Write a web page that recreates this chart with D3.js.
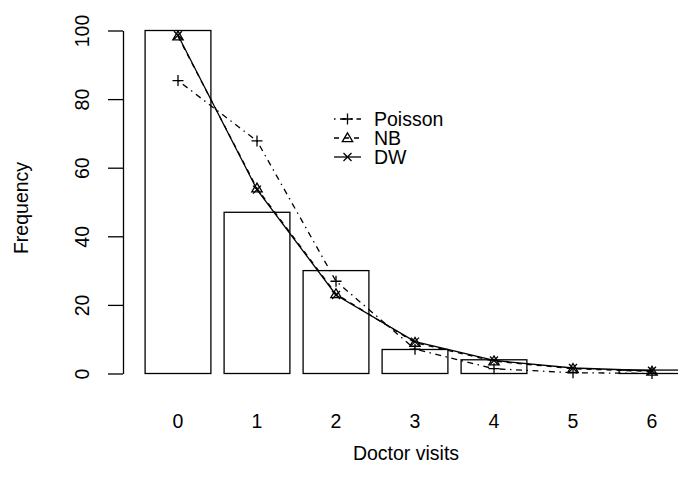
<!DOCTYPE html>
<html><head><meta charset="utf-8">
<script src="https://cdn.jsdelivr.net/npm/d3@7"></script>
<style>body{margin:0;background:#fff}text{font-family:"Liberation Sans",Arial,sans-serif}</style>
</head><body><svg id="c" width="678" height="487"></svg>
<script>
const categories = [0,1,2,3,4,5,6];
const observed = [100,47,30,7,4,0,1];
const poisson = [85.4,67.8,26.9,7.1,1.4,0.22,0.03];
const nb = [98.3,54.0,23.2,9.0,3.6,1.4,0.6];
const dw = [98.6,53.6,22.9,9.3,3.8,1.6,0.8];
const yTicks = [0,20,40,60,80,100];

const FS = 19.5;
const svg = d3.select("#c");
const x = d3.scaleLinear().domain([0,6]).range([178,652]);
const y = d3.scaleLinear().domain([0,100]).range([373.5,30.5]);
const bw = 65.8;

svg.append("g").selectAll("rect").data(categories).join("rect")
  .attr("x", d => x(d) - bw/2).attr("y", (d,i) => y(observed[i]))
  .attr("width", bw).attr("height", (d,i) => y(0) - y(observed[i]))
  .attr("fill","none").attr("stroke","#000").attr("stroke-width",1.3);

// x labels
svg.append("g").selectAll("text").data(categories).join("text")
  .attr("x", d => x(d)).attr("y", 428).attr("text-anchor","middle")
  .attr("font-size",FS).text(d => d);

// y axis
const ya = svg.append("g").attr("transform","translate(123,0)")
  .call(d3.axisLeft(y).tickValues(yTicks).tickSize(15).tickSizeOuter(0).tickFormat(d3.format("d")));
ya.select(".domain").attr("stroke-width",1.3);
ya.selectAll(".tick line").attr("stroke-width",1.3);
ya.selectAll(".tick text")
  .attr("font-size",FS).attr("font-family","Liberation Sans, Arial, sans-serif")
  .attr("x",0).attr("y",0).attr("dy","0.36em")
  .attr("text-anchor","middle")
  .attr("transform","translate(-41,0) rotate(-90)");

svg.append("text").attr("transform","translate(21,208) rotate(-90)").attr("text-anchor","middle")
  .attr("dy","0.36em").attr("font-size",FS).text("Frequency");
svg.append("text").attr("x",406).attr("y",460).attr("text-anchor","middle")
  .attr("font-size",FS).text("Doctor visits");

const line = d3.line().x((d,i) => x(categories[i])).y(d => y(d));
const series = [
  {vals: poisson, dash:"1.5,4.5,6,4.5", sym:"plus"},
  {vals: nb, dash:"5,5", sym:"tri"},
  {vals: dw, dash:null, sym:"cross"}
];
function drawSym(g, type, cx, cy){
  const s = 5.5;
  if(type==="plus"){
    g.append("path").attr("d",`M${cx-s},${cy}H${cx+s}M${cx},${cy-s}V${cy+s}`).attr("stroke","#000").attr("stroke-width",1.3).attr("fill","none");
  } else if(type==="tri"){
    const h = 5.2;
    g.append("path").attr("d",`M${cx},${cy-h}L${cx+h},${cy+h*0.7}L${cx-h},${cy+h*0.7}Z`).attr("stroke","#000").attr("stroke-width",1.3).attr("fill","none");
  } else {
    const t = 4;
    g.append("path").attr("d",`M${cx-t},${cy-t}L${cx+t},${cy+t}M${cx-t},${cy+t}L${cx+t},${cy-t}`).attr("stroke","#000").attr("stroke-width",1.3).attr("fill","none");
  }
}
series.forEach(s => {
  const g = svg.append("g");
  g.append("path").attr("d", line(s.vals)).attr("fill","none").attr("stroke","#000")
    .attr("stroke-width",1.3).attr("stroke-dasharray", s.dash);
  s.vals.forEach((v,i) => drawSym(g, s.sym, x(categories[i]), y(v)));
});

// legend
const legend = [{label:"Poisson",dash:"1.5,4.5,6,4.5",sym:"plus"},{label:"NB",dash:"5,5",sym:"tri"},{label:"DW",dash:null,sym:"cross"}];
legend.forEach((l,i) => {
  const cy = 119 + i*19;
  const g = svg.append("g");
  g.append("line").attr("x1",334).attr("x2",361).attr("y1",cy).attr("y2",cy)
    .attr("stroke","#000").attr("stroke-width",1.3).attr("stroke-dasharray", l.dash);
  drawSym(g, l.sym, 347.5, cy);
  g.append("text").attr("x",374).attr("y",cy).attr("dy","0.36em").attr("font-size",FS).text(l.label);
});
</script></body></html>
